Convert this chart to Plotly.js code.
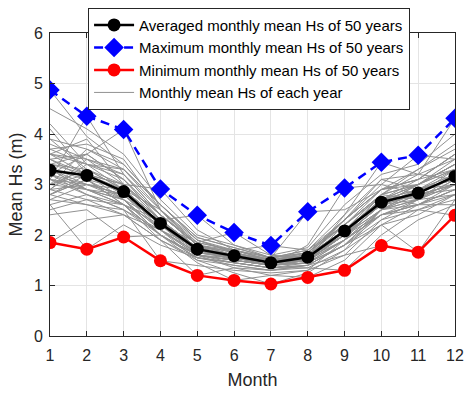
<!DOCTYPE html>
<html>
<head>
<meta charset="utf-8">
<script src="https://cdn.plot.ly/plotly-3.0.1.min.js"></script>
<style>
  html, body { margin: 0; padding: 0; background: #fff; }
  #chart { width: 464px; height: 393px; }
</style>
</head>
<body>
<div id="chart"></div>
<script>
// Months on the x axis
const months = [1, 2, 3, 4, 5, 6, 7, 8, 9, 10, 11, 12];

// Summary series (m)
const avgHs = [3.28, 3.18, 2.86, 2.23, 1.72, 1.59, 1.45, 1.56, 2.08, 2.65, 2.83, 3.16];
const maxHs = [4.87, 4.35, 4.09, 2.91, 2.39, 2.05, 1.79, 2.46, 2.93, 3.44, 3.58, 4.31];
const minHs = [1.85, 1.72, 1.96, 1.49, 1.20, 1.10, 1.03, 1.16, 1.30, 1.79, 1.66, 2.39];

// Monthly mean Hs for each of the 50 years (m)
const yearlyHs = [
  [4.87, 3.95, 3.40, 2.60, 1.95, 1.75, 1.55, 1.70, 2.30, 2.90, 3.10, 3.60],
  [3.10, 4.35, 3.20, 2.40, 1.80, 1.60, 1.50, 1.60, 2.10, 2.70, 3.00, 3.30],
  [3.50, 3.60, 4.09, 2.50, 1.70, 1.55, 1.45, 1.50, 2.00, 2.60, 2.90, 3.20],
  [3.00, 3.20, 3.00, 2.91, 2.10, 1.70, 1.50, 1.65, 2.20, 2.80, 2.70, 3.10],
  [3.30, 2.90, 2.70, 2.30, 2.39, 1.80, 1.55, 1.60, 2.00, 2.50, 2.80, 3.00],
  [2.80, 3.10, 2.60, 2.20, 1.85, 2.05, 1.60, 1.55, 2.10, 2.60, 3.00, 3.40],
  [3.40, 3.30, 2.90, 2.10, 1.75, 1.70, 1.79, 1.70, 2.20, 2.75, 2.60, 2.90],
  [3.20, 3.00, 2.80, 2.20, 1.65, 1.60, 1.55, 2.46, 2.50, 2.90, 3.10, 3.30],
  [2.90, 3.40, 3.10, 2.40, 1.80, 1.50, 1.40, 1.80, 2.93, 3.00, 2.80, 3.00],
  [3.60, 3.20, 2.70, 2.00, 1.60, 1.55, 1.45, 1.50, 2.40, 3.44, 3.20, 3.10],
  [3.10, 2.80, 2.60, 2.30, 1.70, 1.60, 1.50, 1.60, 2.30, 3.00, 3.58, 3.50],
  [3.00, 3.30, 2.90, 2.50, 1.90, 1.65, 1.45, 1.55, 2.10, 2.80, 3.20, 4.31],
  [1.85, 2.30, 2.40, 1.90, 1.50, 1.40, 1.30, 1.40, 1.80, 2.30, 2.50, 2.70],
  [2.60, 1.72, 2.20, 1.80, 1.55, 1.45, 1.35, 1.35, 1.70, 2.20, 2.40, 2.80],
  [2.40, 2.50, 1.96, 2.00, 1.60, 1.50, 1.40, 1.45, 1.90, 2.40, 2.60, 2.90],
  [2.70, 2.60, 2.50, 1.49, 1.40, 1.30, 1.25, 1.30, 1.60, 2.30, 2.70, 3.00],
  [3.00, 2.90, 2.60, 1.90, 1.20, 1.35, 1.30, 1.40, 1.80, 2.50, 2.60, 2.80],
  [2.90, 3.00, 2.70, 2.00, 1.45, 1.10, 1.20, 1.30, 1.90, 2.40, 2.70, 3.10],
  [3.20, 2.80, 2.50, 2.10, 1.50, 1.25, 1.03, 1.25, 1.70, 2.50, 2.80, 2.90],
  [3.10, 3.00, 2.80, 2.20, 1.60, 1.35, 1.20, 1.16, 1.50, 2.20, 2.60, 3.00],
  [2.80, 3.10, 2.60, 2.00, 1.55, 1.40, 1.30, 1.35, 1.30, 2.00, 2.50, 2.80],
  [3.30, 2.90, 2.70, 2.10, 1.60, 1.45, 1.35, 1.40, 1.60, 1.79, 2.30, 2.60],
  [3.40, 3.20, 2.80, 2.20, 1.70, 1.50, 1.40, 1.45, 1.80, 2.20, 1.66, 2.70],
  [3.50, 3.10, 2.90, 2.30, 1.65, 1.55, 1.40, 1.50, 2.00, 2.40, 2.50, 2.39],
  [3.80, 3.50, 3.20, 2.40, 1.80, 1.70, 1.50, 1.60, 2.20, 2.80, 3.00, 3.40],
  [3.60, 3.90, 3.00, 2.30, 1.75, 1.60, 1.45, 1.55, 2.10, 2.70, 3.10, 3.60],
  [4.20, 3.40, 3.30, 2.60, 1.90, 1.65, 1.50, 1.65, 2.30, 2.90, 3.30, 3.80],
  [3.70, 3.80, 3.50, 2.50, 1.85, 1.70, 1.55, 1.70, 2.40, 3.10, 3.20, 3.50],
  [2.70, 3.00, 2.80, 2.10, 1.60, 1.50, 1.40, 1.45, 1.90, 2.50, 2.90, 3.00],
  [3.20, 3.60, 3.10, 2.30, 1.70, 1.55, 1.45, 1.50, 2.00, 2.60, 2.70, 3.20],
  [4.50, 4.10, 3.60, 2.70, 2.00, 1.80, 1.60, 1.75, 2.60, 3.20, 3.40, 4.00],
  [3.90, 3.30, 3.00, 2.40, 1.80, 1.65, 1.50, 1.55, 2.10, 2.60, 2.80, 3.30],
  [2.60, 2.80, 2.50, 2.00, 1.55, 1.45, 1.35, 1.40, 1.80, 2.40, 2.60, 2.90],
  [3.00, 3.70, 3.40, 2.60, 1.95, 1.75, 1.55, 1.65, 2.20, 2.90, 3.00, 3.30],
  [3.50, 3.20, 2.80, 2.20, 1.70, 1.60, 1.45, 1.60, 2.10, 2.60, 2.90, 3.10],
  [2.90, 2.70, 2.60, 2.00, 1.60, 1.50, 1.40, 1.50, 1.90, 2.50, 2.70, 2.80],
  [3.70, 3.40, 3.20, 2.50, 1.80, 1.65, 1.50, 1.60, 2.00, 2.70, 3.00, 3.50],
  [3.30, 3.00, 2.90, 2.30, 1.75, 1.60, 1.45, 1.55, 2.30, 3.10, 2.90, 3.20],
  [2.50, 2.70, 2.40, 2.10, 1.65, 1.55, 1.40, 1.50, 1.90, 2.40, 2.60, 2.60],
  [3.60, 3.50, 3.00, 2.40, 1.85, 1.70, 1.50, 1.55, 2.00, 2.80, 3.30, 3.70],
  [3.10, 2.90, 2.80, 2.20, 1.70, 1.60, 1.50, 1.60, 2.00, 2.60, 2.80, 3.00],
  [3.90, 3.70, 3.30, 2.60, 1.90, 1.70, 1.55, 1.65, 2.30, 2.90, 3.10, 3.60],
  [2.80, 2.60, 2.40, 1.90, 1.55, 1.45, 1.35, 1.45, 1.80, 2.50, 2.70, 3.00],
  [3.40, 3.60, 3.10, 2.40, 1.80, 1.60, 1.50, 1.60, 2.10, 2.70, 2.90, 3.30],
  [4.10, 3.20, 2.90, 2.30, 1.70, 1.55, 1.45, 1.50, 2.00, 2.60, 3.00, 3.40],
  [2.90, 3.50, 3.30, 2.50, 1.80, 1.60, 1.45, 1.55, 1.90, 2.70, 2.90, 3.10],
  [3.30, 3.10, 2.70, 2.10, 1.65, 1.55, 1.40, 1.50, 2.20, 2.80, 3.00, 3.40],
  [3.60, 3.40, 2.90, 2.20, 1.70, 1.60, 1.50, 1.60, 2.10, 2.70, 2.80, 3.20],
  [2.80, 3.20, 3.00, 2.30, 1.75, 1.60, 1.45, 1.55, 2.00, 2.50, 2.90, 3.10],
  [3.20, 2.90, 2.60, 2.00, 1.60, 1.50, 1.40, 1.50, 2.10, 2.70, 2.80, 3.00]
];

const FONT = 'Liberation Sans, Arial, Helvetica, sans-serif';
const TEXT = '#262626';

const traces = [];

// Thin grey line per year; only the first one gets a legend entry
yearlyHs.forEach((vals, i) => {
  traces.push({
    x: months, y: vals, type: 'scatter', mode: 'lines',
    name: 'Monthly mean Hs of each year',
    line: { color: 'rgb(145,145,145)', width: 1 },
    showlegend: i === 0, legendrank: 4, hoverinfo: 'skip'
  });
});

traces.push({
  x: months, y: maxHs, type: 'scatter', mode: 'lines+markers',
  name: 'Maximum monthly mean Hs of 50 years',
  line: { color: 'rgb(0,0,255)', width: 2.5, dash: '9px,6px' },
  marker: { symbol: 'diamond', size: 15, color: 'rgb(0,0,255)' },
  legendrank: 2
});
traces.push({
  x: months, y: minHs, type: 'scatter', mode: 'lines+markers',
  name: 'Minimum monthly mean Hs of 50 years',
  line: { color: 'rgb(255,0,0)', width: 2.5 },
  marker: { symbol: 'circle', size: 13, color: 'rgb(255,0,0)' },
  legendrank: 3
});
traces.push({
  x: months, y: avgHs, type: 'scatter', mode: 'lines+markers',
  name: 'Averaged monthly mean Hs of 50 years',
  line: { color: 'black', width: 2.5 },
  marker: { symbol: 'circle', size: 13, color: 'black' },
  legendrank: 1
});

const axisCommon = {
  showline: true, linecolor: TEXT, linewidth: 1, mirror: 'allticks',
  ticks: 'inside', ticklen: 5, tickcolor: TEXT, tickwidth: 1,
  showgrid: true, gridcolor: 'rgb(228,228,228)', gridwidth: 1,
  zeroline: false, automargin: false,
  tickfont: { family: FONT, size: 16, color: TEXT }
};

const layout = {
  width: 464, height: 393,
  margin: { l: 50, r: 9, t: 32, b: 57 },
  paper_bgcolor: 'white', plot_bgcolor: 'white',
  font: { family: FONT, color: TEXT },
  showlegend: true,
  xaxis: Object.assign({}, axisCommon, {
    range: [1, 12], tickvals: months, ticktext: months.map(String),
    ticklabelstandoff: 5,
    title: { text: 'Month', font: { family: FONT, size: 18, color: TEXT }, standoff: 10 }
  }),
  yaxis: Object.assign({}, axisCommon, {
    range: [0, 6], tickvals: [0, 1, 2, 3, 4, 5, 6],
    ticklabelstandoff: 3,
    title: { text: 'Mean Hs (m)', font: { family: FONT, size: 18, color: TEXT }, standoff: 6 }
  }),
  legend: {
    x: 0.094, y: 1.08, xanchor: 'left', yanchor: 'top',
    bgcolor: 'white', bordercolor: TEXT, borderwidth: 1,
    font: { family: FONT, size: 15, color: 'black' },
    traceorder: 'normal', itemwidth: 40, tracegroupgap: 0
  }
};

Plotly.newPlot('chart', traces, layout, { staticPlot: true, displayModeBar: false });
</script>
</body>
</html>
